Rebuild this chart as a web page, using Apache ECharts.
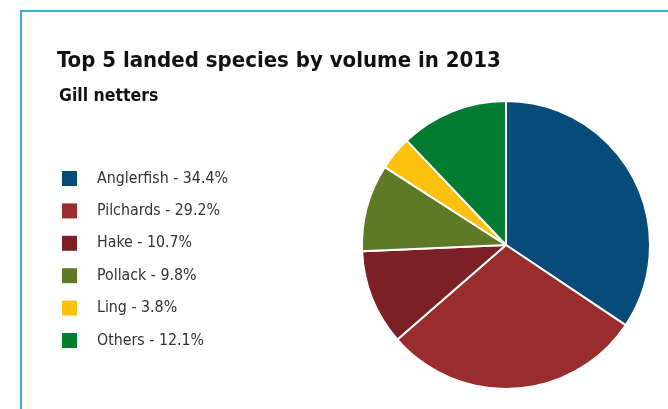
<!DOCTYPE html>
<html>
<head>
<meta charset="utf-8">
<script src="https://cdn.jsdelivr.net/npm/echarts@6/dist/echarts.min.js"></script>
<style>
html,body{margin:0;padding:0;background:#fff;}
#chart{width:668px;height:409px;}
</style>
</head>
<body>
<div id="chart"></div>
<script>
const categories = ['Anglerfish', 'Pilchards', 'Hake', 'Pollack', 'Ling', 'Others'];
const values = [34.4, 29.2, 10.7, 9.8, 3.8, 12.1];
const colors = ['#074b7a', '#992d2d', '#7b2126', '#5f7a26', '#fcc00e', '#027c31'];

const chart = echarts.init(document.getElementById('chart'), null, {renderer: 'canvas'});
const data = categories.map((c, i) => ({name: c, value: values[i], itemStyle: {color: colors[i]}}));
const valueMap = {};
categories.forEach((c, i) => valueMap[c] = values[i]);

chart.setOption({
  animation: false,
  backgroundColor: '#fff',
  title: [{
    text: 'Top 5 landed species by volume in 2013',
    left: 52, top: 45,
    textStyle: {fontFamily: 'DejaVu Sans Condensed', fontWeight: 'bold', fontSize: 22, color: '#111'}
  }, {
    text: 'Gill netters',
    left: 54, top: 82,
    textStyle: {fontFamily: 'DejaVu Sans Condensed', fontWeight: 'bold', fontSize: 17.5, color: '#111'}
  }],
  graphic: [{
    type: 'polyline',
    shape: {points: [[21, 409], [21, 11], [668, 11]]},
    style: {stroke: '#3aaccc', lineWidth: 2, fill: null}
  }],
  legend: {
    orient: 'vertical',
    left: 57, top: 165.5,
    itemWidth: 15, itemHeight: 15, itemGap: 16.4,
    icon: 'rect',
    itemStyle: {borderWidth: 0},
    data: categories,
    formatter: name => '{sp|}{t|' + name + ' - ' + valueMap[name] + '%}',
    textStyle: {fontFamily: 'DejaVu Sans Condensed', fontSize: 15.8, color: '#333', lineHeight: 15,
      rich: {
        sp: {width: 15, lineHeight: 15},
        t: {fontFamily: 'DejaVu Sans Condensed', fontSize: 15.8, color: '#333', lineHeight: 15}
      }}
  },
  series: [{
    type: 'pie',
    center: [506, 245],
    radius: 144,
    startAngle: 90,
    clockwise: true,
    label: {show: false},
    labelLine: {show: false},
    itemStyle: {borderColor: '#fff', borderWidth: 2},
    emphasis: {disabled: true},
    data: data
  }]
});
</script>
</body>
</html>
